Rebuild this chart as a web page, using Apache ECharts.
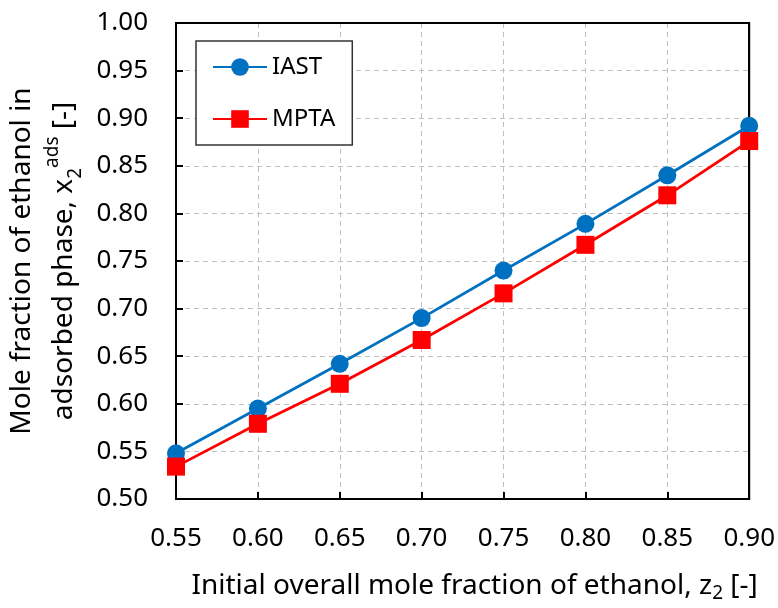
<!DOCTYPE html>
<html>
<head>
<meta charset="utf-8">
<script src="https://cdn.jsdelivr.net/npm/echarts@6/dist/echarts.min.js"></script>
<style>
html,body{margin:0;padding:0;background:#fff;}
#c{width:778px;height:608px;}
</style>
</head>
<body>
<div id="c"></div>
<script>
var z2 = [0.55, 0.60, 0.65, 0.70, 0.75, 0.80, 0.85, 0.90];
var iast = [0.548, 0.595, 0.642, 0.690, 0.740, 0.789, 0.840, 0.892];
var mpta = [0.534, 0.579, 0.621, 0.667, 0.716, 0.767, 0.819, 0.876];
var seriesNames = ['IAST', 'MPTA'];
var xMin = 0.55, xMax = 0.90, yMin = 0.50, yMax = 1.00, step = 0.05;

var FONT = 'Noto Sans';
function pairs(xs, ys){ return xs.map(function(x,i){ return [x, ys[i]]; }); }

var chart = echarts.init(document.getElementById('c'));
chart.setOption({
  backgroundColor: '#fff',
  animation: false,
  textStyle: { fontFamily: FONT },
  grid: { left: 176, right: 27, top: 23, bottom: 105, show: true, borderColor: '#000', borderWidth: 2, backgroundColor: 'transparent' },
  legend: {
    orient: 'vertical', left: 196, top: 41,
    padding: [14, 17, 14, 16],
    itemWidth: 54, itemHeight: 22, itemGap: 28,
    borderColor: '#333', borderWidth: 1.5, backgroundColor: '#fff',
    textStyle: { fontFamily: FONT, fontSize: 24, color: '#000' },
    data: seriesNames
  },
  xAxis: {
    type: 'value', min: xMin, max: xMax, interval: step,
    axisLine: { show: true, onZero: false, lineStyle: { color: '#000', width: 2 } },
    axisTick: { show: true, inside: true, length: 7, lineStyle: { color: '#000', width: 2 } },
    axisLabel: { margin: 27, fontSize: 26, color: '#000', fontFamily: FONT, formatter: function(v){ return v.toFixed(2); } },
    splitLine: { show: true, showMinLine: false, showMaxLine: false, lineStyle: { color: '#bfbfbf', width: 1, type: [5, 4] } },
    name: '{a|Initial overall mole fraction of ethanol, z}{sub|2}{a| [-]}',
    nameLocation: 'middle', nameGap: 70,
    nameTextStyle: {
      padding: [0, 0, 0, 24],
      rich: {
        a: { fontSize: 28, fontFamily: FONT, color: '#000', lineHeight: 34 },
        sub: { fontSize: 19, fontFamily: FONT, color: '#000', lineHeight: 20, verticalAlign: 'bottom' }
      }
    }
  },
  yAxis: {
    type: 'value', min: yMin, max: yMax, interval: step,
    axisLine: { show: true, onZero: false, lineStyle: { color: '#000', width: 2 } },
    axisTick: { show: true, inside: true, length: 7, lineStyle: { color: '#000', width: 2 } },
    axisLabel: { margin: 28, fontSize: 26, color: '#000', fontFamily: FONT, formatter: function(v){ return v.toFixed(2); } },
    splitLine: { show: true, showMinLine: false, showMaxLine: false, lineStyle: { color: '#bfbfbf', width: 1, type: [5, 4] } },
    name: '{a|Mole fraction of ethanol in}\n{a|adsorbed phase, x}{sub|2}{sup|ads}{a| [-]}',
    nameLocation: 'middle', nameGap: 84, nameRotate: 90,
    nameTextStyle: {
      rich: {
        a: { fontSize: 28, fontFamily: FONT, color: '#000', lineHeight: 42 },
        sub: { fontSize: 19, fontFamily: FONT, color: '#000', lineHeight: 22, verticalAlign: 'bottom' },
        sup: { fontSize: 19, fontFamily: FONT, color: '#000', lineHeight: 22, verticalAlign: 'top' }
      }
    }
  },
  series: [
    {
      name: seriesNames[0], type: 'line', data: pairs(z2, iast),
      symbol: 'circle', symbolSize: 18, clip: false, z: 15,
      lineStyle: { color: '#0070c0', width: 2.8 },
      itemStyle: { color: '#0070c0' },
      markLine: {
        silent: true, symbol: 'none', animation: false, z: 3,
        label: { show: false },
        lineStyle: { color: '#000', width: 2, type: 'solid' },
        emphasis: { disabled: true },
        data: [{ xAxis: xMax }, { yAxis: yMax }]
      }
    },
    {
      name: seriesNames[1], type: 'line', data: pairs(z2, mpta),
      symbol: 'rect', symbolSize: 18, clip: false, z: 16,
      lineStyle: { color: '#ff0000', width: 2.8 },
      itemStyle: { color: '#ff0000' }
    }
  ]
});
</script>
</body>
</html>
